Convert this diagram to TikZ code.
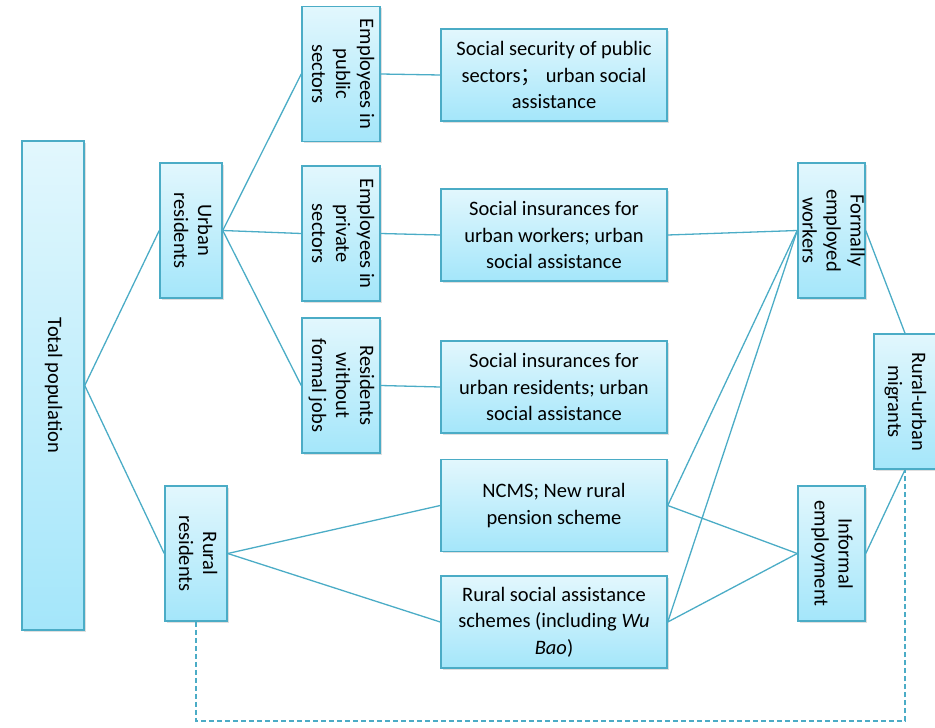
\documentclass[tikz,border=0pt]{standalone}
\usepackage{fontspec}
\setmainfont{Carlito}
\newfontfamily\cjk{Noto Sans CJK SC}
\usetikzlibrary{shadows}
\definecolor{boxDraw}{HTML}{4BACC6}
\definecolor{boxTop}{HTML}{E2F7FD}
\definecolor{boxBot}{HTML}{A4E6FA}
\definecolor{linkDraw}{HTML}{4BACC6}
\newcommand{\vlabel}[1]{\makebox[0pt]{\rotatebox{-90}{\renewcommand{\arraystretch}{0.9}%
  \begin{tabular}{@{}c@{}}#1\end{tabular}}}}
\tikzset{
  font=\fontsize{20.5}{26.7}\selectfont,
  box/.style  ={draw=boxDraw, line width=1.5pt, top color=boxTop, bottom color=boxBot,
                inner sep=0pt, align=center,
                drop shadow={shadow xshift=1.5pt, shadow yshift=-1.5pt, opacity=0.25}},
  vbox/.style ={box, minimum width=62pt, minimum height=135pt},
  hbox/.style ={box, minimum width=226pt, minimum height=92pt},
  link/.style ={draw=linkDraw, line width=1.3pt},
  dlink/.style={link, dash pattern=on 5pt off 3pt},
}

\begin{document}
\begin{tikzpicture}[x=1pt, y=-1pt]
  \useasboundingbox (0,0) rectangle (935,728);
  % population and residence
  \node[vbox, minimum height=489pt] (total) at (53,385.5) {\vlabel{Total population}};
  \node[vbox] (urban) at (191,230.5) {\vlabel{Urban\\residents}};
  \node[vbox] (rural) at (196,553.5) {\vlabel{Rural\\residents}};

  % urban groups
  \node[vbox, minimum width=78pt] (pub)   at (341,74)    {\vlabel{Employees in\\public\\sectors}};
  \node[vbox, minimum width=78pt] (priv)  at (341,233.5) {\vlabel{Employees in\\private\\sectors}};
  \node[vbox, minimum width=78pt] (nojob) at (341,385.5) {\vlabel{Residents\\without\\formal jobs}};

  % schemes
  \node[hbox] (sspub)  at (554,75)    {Social security of public\\sectors{\cjk ；} urban social\\assistance};
  \node[hbox] (siwork) at (554,235)   {Social insurances for\\urban workers; urban\\social assistance};
  \node[hbox] (sires)  at (554,387)   {Social insurances for\\urban residents; urban\\social assistance};
  \node[hbox] (ncms)   at (554,505.5) {NCMS; New rural\\pension scheme};
  \node[hbox] (rsa)    at (554,622)   {Rural social assistance\\schemes (including \textit{Wu}\\\textit{Bao})};

  % employment
  \node[vbox, minimum width=67pt] (formal)   at (831.5,230.5) {\vlabel{Formally\\employed\\workers}};
  \node[vbox, minimum width=67pt] (informal) at (831.5,553.5) {\vlabel{Informal\\employment}};
  \node[vbox] (migr) at (905,401.5) {\vlabel{Rural-urban\\migrants}};

  \foreach \a/\b in {total/urban, total/rural, urban/pub, urban/priv, urban/nojob,
                     pub/sspub, priv/siwork, nojob/sires, rural/ncms, rural/rsa,
                     siwork/formal, ncms/formal, rsa/formal, ncms/informal, rsa/informal}
      \draw[link] (\a.east) -- (\b.west);
  \draw[link] (formal.east) -- (migr.north);
  \draw[link] (informal.east) -- (migr.south);

  \coordinate (loop) at (0,721);
  \draw[dlink] (rural.south) -- (rural.south |- loop) -| (migr.south);
\end{tikzpicture}
\end{document}
